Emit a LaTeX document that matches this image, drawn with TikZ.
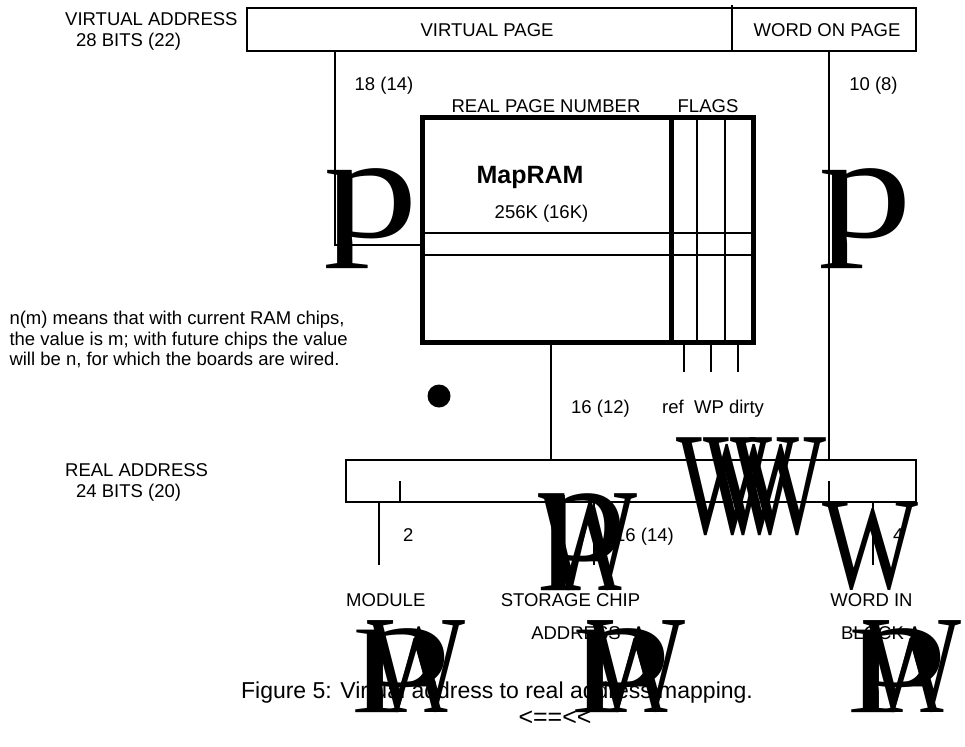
\documentclass[tikz,border=0pt]{standalone}
\usepackage{graphicx}
\usepackage{fontspec}
\setmainfont{Liberation Sans}
\newfontfamily\glyfont{Liberation Serif}
\usetikzlibrary{calc}

% stray symbol glyphs, stretched to a given box
\newcommand{\gly}[3]{\resizebox*{#2pt}{#3pt}{\glyfont #1}}

\begin{document}
\begin{tikzpicture}[
    x=1pt, y=-1pt,
    every node/.style={font=\fontsize{18.5}{20.5}\selectfont, inner sep=0pt},
    lbl/.style={anchor=base},
    lblw/.style={anchor=base west},
    bar/.style={draw, line width=2.7pt},
    ram/.style={draw, line width=5pt},
    cellline/.style={line width=2.7pt},
    wire/.style={line width=2.2pt},
    glyph/.style={anchor=north west, inner sep=0pt}
]
\useasboundingbox (0,0) rectangle (965,746);

% virtual address
\node[bar, minimum width=669pt, minimum height=43pt] (vaddr) at (581.5,29.5) {};
\coordinate (vsplit) at (732,5);
\draw[bar] (vsplit) -- (vsplit |- vaddr.south);
\node[lblw] (vlabel) at (65,26) {VIRTUAL ADDRESS};
\node[lblw] (vbits) at (76,46.5) {28 BITS (22)};
\node[lbl] (vpage) at (487,36.5) {VIRTUAL PAGE};
\node[lbl] (wpage) at (827,36.5) {WORD ON PAGE};
\node[lbl] (pgbits) at (384,90.5) {18 (14)};
\node[lbl] (wdbits) at (873.5,90.5) {10 (8)};

% MapRAM
\node[ram, minimum width=331pt, minimum height=224.5pt] (mapram) at (587.5,229.75) {};
\coordinate (fsplit) at (671,0);
\draw[ram] (fsplit |- mapram.north) -- (fsplit |- mapram.south);
\foreach \fx in {697,725}
  \draw[cellline] (\fx,117.5) -- (\fx,342);
\foreach \ry in {233,255}
  \draw[cellline] (422,\ry) -- (753,\ry);
\node[lbl] (rpnum) at (546,112.5) {REAL PAGE NUMBER};
\node[lbl] (flags) at (708,112.5) {FLAGS};
\node[lbl, font=\fontsize{25}{28}\selectfont\bfseries] (mapname) at (530,183) {MapRAM};
\node[lbl] (mapsize) at (541.5,218) {256K (16K)};

% note
\node[lblw] (note1) at (9.3,324.5) {n(m) means that with current RAM chips,};
\node[lblw] (note2) at (9.3,345) {the value is m; with future chips the value};
\node[lblw] (note3) at (9.3,365.5) {will be n, for which the boards are wired.};
\node[circle, fill, minimum size=23pt] (dot) at (439,396) {};

% real address
\node[bar, minimum width=570pt, minimum height=42pt] (raddr) at (631,481) {};
\node[lblw] (rlabel) at (65,476.5) {REAL ADDRESS};
\node[lblw] (rbits) at (76,497) {24 BITS (20)};
\node[lblw] (rpbits) at (571,413.3) {16 (12)};
\node[lblw] (flagnames) at (662,413.3) {ref\ \ WP dirty};

% connectors
\coordinate (pgin) at (335,245);
\draw[wire] (vaddr.south -| pgin) |- (mapram.west |- pgin);
\coordinate (wdline) at (829,0);
\draw[wire] (vaddr.south -| wdline) -- (raddr.north -| wdline);
\coordinate (rpout) at (551,0);
\draw[cellline] (mapram.south -| rpout) -- (raddr.north -| rpout);
\foreach \fx [count=\i] in {684,711,738} {
  \coordinate (flag\i) at (\fx,372);
  \draw[cellline] (mapram.south -| flag\i) -- (flag\i);
}
\coordinate (modtick) at (400,481);
\coordinate (blktick) at (829,481);
\draw[cellline] (modtick) -- (raddr.south -| modtick);
\draw[cellline] (blktick) -- (raddr.south -| blktick);
\coordinate (modout) at (379,565);
\coordinate (chipout) at (594,565);
\coordinate (blkout) at (873,565);
\foreach \o in {modout,chipout,blkout}
  \draw[wire] (raddr.south -| \o) -- (\o);

% field labels
\node[lblw] (modbits) at (403,541.5) {2};
\node[lblw] (chipbits) at (615,541.5) {16 (14)};
\node[lblw] (blkbits) at (893,541.5) {4};
\node[lblw] (modname) at (346,606) {MODULE};
\node[lbl] (chipname) at (570.5,606) {STORAGE CHIP};
\node[lbl] (chipname2) at (576,639) {ADDRESS};
\node[lbl] (blkname) at (871.5,606) {WORD IN};
\node[lbl] (blkname2) at (872.5,639) {BLOCK};

% stray glyphs
\node[glyph] (gpl) at (323,168) {\gly{p}{95}{100}};
\node[glyph] (gpr) at (818,168) {\gly{p}{94}{100}};
\foreach \gx [count=\i] in {676,703,730}
  \node[glyph] (gw\i) at (\gx,437) {\gly{W}{96}{98}};
\node[glyph] (gwb) at (822,502) {\gly{W}{96}{88}};
\node[glyph] (gcw) at (538,493) {\gly{W}{99}{97}};
\node[glyph] (gcp) at (538,493) {\gly{p}{89}{97}};
\node[glyph] (gca) at (562,507) {\gly{A}{60}{83}};
\foreach \cx [count=\i] in {367,587,863} {
  \node[glyph] (bw\i) at (\cx,620) {\gly{W}{98}{92}};
  \node[glyph] (bp\i) at ($(\cx,628)+(-15,0)$) {\gly{p}{100}{84}};
  \node[glyph] (ba\i) at ($(\cx,638)+(21,0)$) {\gly{A}{60}{74}};
}

% caption
\node[lbl, font=\fontsize{23}{26}\selectfont] (caption) at (497,698) {Figure 5: Virtual address to real address mapping.};
\node[lbl, font=\fontsize{25}{28}\selectfont] (back) at (555,725) {<==<{}<};
\end{tikzpicture}
\end{document}
